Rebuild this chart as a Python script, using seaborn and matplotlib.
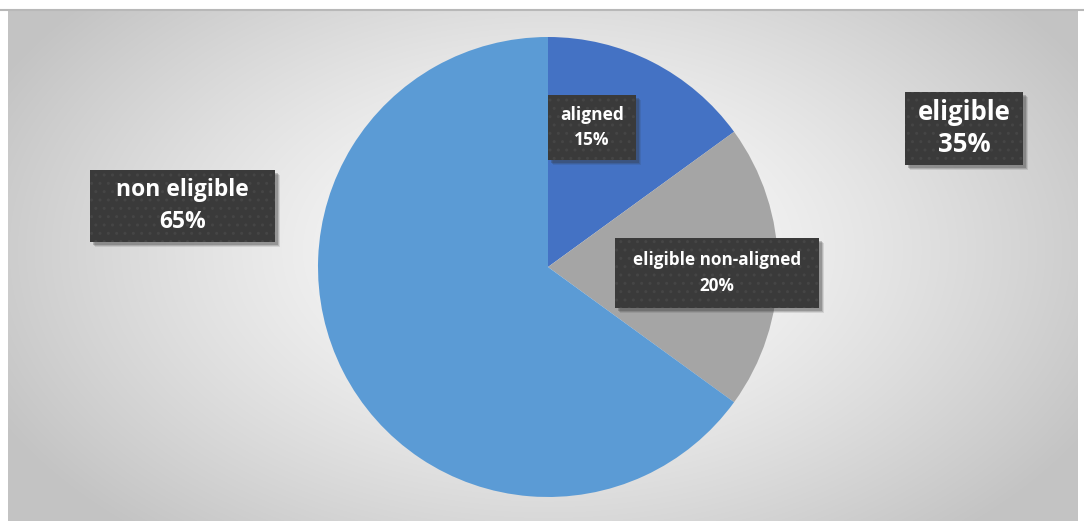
import numpy as np
import matplotlib
matplotlib.use("Agg")
import matplotlib.pyplot as plt
from matplotlib.patches import Rectangle
import seaborn as sns

# Data
categories = ["aligned", "eligible non-aligned", "non eligible"]
shares = [15, 20, 65]
colors = ["#4472C4", "#A5A5A5", "#5B9BD5"]
group_label = "eligible"
group_share = 35

sns.set_theme(style="white")
plt.rcParams['font.family'] = ['Open Sans', 'DejaVu Sans']
plt.rcParams['hatch.linewidth'] = 1.0

W, H = 1084, 521
fig = plt.figure(figsize=(W / 100, H / 100), dpi=100)
fig.patch.set_facecolor("white")

# background gradient panel
bx0, bx1, by_top = 8, 1078, 10
ax_bg = fig.add_axes([bx0 / W, 0, (bx1 - bx0) / W, (H - by_top) / H])
xs = np.arange(bx0, bx1)
ys = np.arange(by_top, H)
X, Y = np.meshgrid(xs, ys)
cx, cy = 548, 250
d = np.sqrt(((X - cx) / 620) ** 2 + ((Y - cy) / 380) ** 2)
d = np.clip(d, 0, 1)
val = (255 - 60 * d ** 1.3) / 255
img = np.dstack([val, val, val])
ax_bg.imshow(img, aspect="auto", extent=[0, 1, 0, 1], origin="upper")
ax_bg.set_axis_off()

# top border line
fig.add_artist(plt.Line2D([0, 1], [1 - by_top / H, 1 - by_top / H], color="#b8b8b8", lw=1.5,
                          transform=fig.transFigure))

# pie
pcx, pcy, r = 548, 267, 230
ax = fig.add_axes([(pcx - r) / W, (H - pcy - r) / H, 2 * r / W, 2 * r / H])
ax.pie(shares, colors=colors, startangle=90, counterclock=False, radius=1,
       wedgeprops=dict(linewidth=0))
ax.set_xlim(-1, 1)
ax.set_ylim(-1, 1)
ax.set_aspect("equal")
ax.set_axis_off()
ax.patch.set_alpha(0)


def label(x0, y0, x1, y1, text, size, ls):
    for k, a in ((5, 0.12), (4, 0.18), (3, 0.25)):
        sh = Rectangle(((x0 + k) / W, 1 - (y1 + k) / H), (x1 - x0) / W, (y1 - y0) / H,
                       transform=fig.transFigure, facecolor="#333333", edgecolor="none",
                       alpha=a, zorder=4)
        fig.add_artist(sh)
    rect = Rectangle((x0 / W, 1 - y1 / H), (x1 - x0) / W, (y1 - y0) / H,
                     transform=fig.transFigure, facecolor="#3a3a3a", edgecolor="#454545",
                     hatch="..", lw=0, zorder=5)
    fig.add_artist(rect)
    fig.text((x0 + x1) / 2 / W, 1 - (y0 + y1) / 2 / H, text, ha="center", va="center",
             color="white", fontsize=size, fontweight="bold", linespacing=ls, zorder=6)


label(90, 170, 275, 242, f"{categories[2]}\n{shares[2]}%", 16.5, 1.4)
label(548, 95, 636, 160, f"{categories[0]}\n{shares[0]}%", 12.5, 1.55)
label(615, 238, 819, 308, f"{categories[1]}\n{shares[1]}%", 12.3, 1.55)
label(905, 92, 1023, 165, f"{group_label}\n{group_share}%", 18.5, 1.25)

fig.savefig("out.png", dpi=100)
